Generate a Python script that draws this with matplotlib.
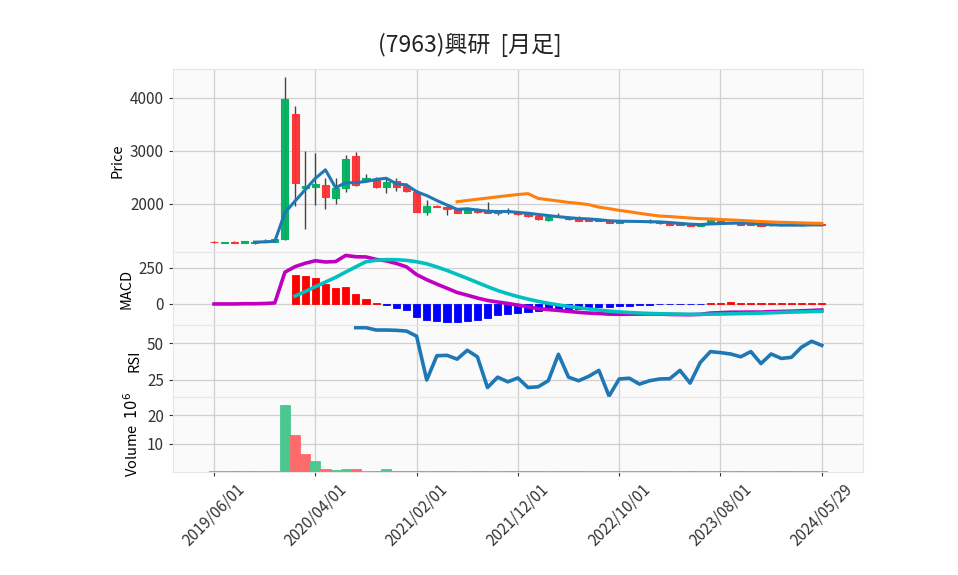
import matplotlib.pyplot as plt
import numpy as np
import pandas as pd

plt.rcParams['font.family'] = ['Noto Sans CJK JP', 'DejaVu Sans']

# monthly bars from 2019/06, plus the latest bar dated 2024/05/29
dates = pd.date_range('2019-06-01', '2024-05-01', freq='MS').strftime('%Y/%m/%d').tolist()
dates.append('2024/05/29')

opens = [1285, 1262, 1282, 1260, 1258, 1290, 1290, 1334, 3698, 2296,
         2327, 2358, 2107, 2308, 2906, 2440, 2453, 2327, 2440, 2345,
         2221, 1843, 1968, 1949, 1900, 1836, 1887, 1855, 1836, 1870,
         1836, 1817, 1774, 1698, 1761, 1730, 1730, 1717, 1700, 1679,
         1647, 1680, 1675, 1675, 1666, 1641, 1620, 1623, 1585, 1654,
         1685, 1645, 1635, 1615, 1617, 1595, 1610, 1605, 1600, 1605, 1620]
highs = [1300, 1290, 1295, 1305, 1290, 1330, 1345, 4400, 3849, 3000,
         2957, 2485, 2485, 2925, 2975, 2560, 2500, 2515, 2490, 2390,
         2260, 2075, 1990, 1962, 1910, 1910, 1920, 2043, 1890, 1920,
         1850, 1840, 1780, 1800, 1830, 1760, 1770, 1730, 1710, 1690,
         1680, 1700, 1690, 1720, 1680, 1650, 1630, 1630, 1640, 1710,
         1700, 1665, 1650, 1630, 1625, 1625, 1625, 1615, 1610, 1620, 1625]
lows = [1265, 1255, 1262, 1255, 1250, 1280, 1285, 1320, 1962, 1523,
        1981, 1900, 2000, 2221, 2345, 2421, 2300, 2202, 2250, 2230,
        1843, 1792, 1940, 1792, 1830, 1830, 1830, 1836, 1800, 1820,
        1800, 1760, 1700, 1680, 1750, 1690, 1680, 1680, 1680, 1640,
        1640, 1670, 1660, 1640, 1625, 1600, 1595, 1585, 1580, 1650,
        1620, 1630, 1600, 1600, 1580, 1590, 1590, 1595, 1590, 1595, 1605]
closes = [1275, 1280, 1272, 1296, 1280, 1300, 1334, 3975, 2390, 2345,
          2372, 2138, 2296, 2849, 2358, 2485, 2327, 2409, 2327, 2251,
          1843, 1962, 1943, 1906, 1836, 1900, 1843, 1836, 1868, 1850,
          1805, 1767, 1723, 1761, 1745, 1715, 1685, 1685, 1685, 1647,
          1673, 1675, 1670, 1660, 1635, 1604, 1604, 1591, 1623, 1698,
          1635, 1640, 1604, 1604, 1585, 1617, 1600, 1598, 1605, 1610, 1612]
# volume in millions of shares
volumes = [0.25, 0.2, 0.25, 0.2, 0.2, 0.3, 0.3, 23.7, 13.0, 6.2,
           4.0, 1.2, 0.7, 1.2, 1.2, 0.3, 0.3, 1.2, 0.5, 0.3,
           0.3, 0.25, 0.2, 0.2, 0.2, 0.2, 0.2, 0.2, 0.2, 0.2,
           0.2, 0.2, 0.2, 0.2, 0.2, 0.2, 0.2, 0.2, 0.2, 0.2,
           0.2, 0.2, 0.2, 0.2, 0.2, 0.2, 0.2, 0.2, 0.2, 0.2,
           0.2, 0.2, 0.2, 0.2, 0.2, 0.2, 0.2, 0.2, 0.2, 0.2, 0.2]
# RSI(14), starts at bar 14
rsi_values = [60.4, 60.4, 58.8, 58.8, 58.6, 58.1, 54.6, 25.0, 41.4, 41.7,
              39.1, 45.1, 40.7, 19.9, 26.9, 23.8, 26.4, 19.9, 20.4, 24.5,
              42.4, 26.9, 24.5, 27.5, 31.5, 14.1, 25.7, 26.2, 22.2, 24.5,
              25.7, 25.9, 31.5, 22.9, 36.8, 44.2, 43.5, 42.6, 40.7, 44.2,
              36.1, 42.6, 39.6, 40.3, 47.2, 51.2, 48.4]

df = pd.DataFrame({'open': opens, 'high': highs, 'low': lows, 'close': closes, 'volume': volumes})
x = np.arange(len(df))
ma5 = df['close'].rolling(5).mean()
ma25 = df['close'].rolling(25).mean()
macd = df['close'].ewm(span=12, adjust=False).mean() - df['close'].ewm(span=26, adjust=False).mean()
signal = macd.rolling(9).mean()
hist = macd - signal
rsi = pd.Series([np.nan] * 14 + rsi_values)

up, down = '#00b060', '#fe3032'
vup, vdown = '#4cc790', '#fd6b6c'
bg, grid = '#fafafa', '#d0d0d0'

fig = plt.figure(figsize=(9.58, 5.75), dpi=100)
L, W = 173 / 958, 690 / 958
def panel(top, bottom):
    return fig.add_axes([L, 1 - bottom / 575, W, (bottom - top) / 575])
ax1 = panel(69, 252)
ax2 = panel(252, 325)
ax3 = panel(325, 397)
ax4 = panel(397, 472)

for ax in (ax1, ax2, ax3, ax4):
    ax.set_facecolor(bg)
    ax.grid(True, color=grid, linewidth=0.9)
    ax.set_axisbelow(True)
    for s in ax.spines.values():
        s.set_color('#e6e6e6')
    ax.set_xlim(-4.05, 64.07)
    ax.set_xticks(x[::10])
    ax.tick_params(labelsize=11, colors='#333333', length=3)
for ax in (ax1, ax2, ax3):
    ax.tick_params(axis='x', labelbottom=False, length=0)

# candles
is_up = df['close'] >= df['open']
ccol = np.where(is_up, up, down)
ax1.vlines(x, df['low'], df['high'], color='#444444', linewidth=1, zorder=2)
ax1.bar(x, (df['close'] - df['open']).abs(), bottom=df[['open', 'close']].min(axis=1),
        width=0.7, color=ccol, edgecolor=ccol, linewidth=0.8, alpha=0.95, zorder=3)
ax1.plot(x, ma5, color='#1f77b4', linewidth=2.2, zorder=4)
ax1.plot(x, ma25, color='#ff7f0e', linewidth=2.2, zorder=4)
ax1.set_ylim(1094, 4547)
ax1.set_yticks([2000, 3000, 4000])
ax1.set_ylabel('Price', fontsize=10.5)

# MACD
hcol = np.where(hist >= 0, '#ff0000', '#0000ff')
ax2.bar(x, hist, width=0.7, color=hcol, edgecolor=hcol, linewidth=0.6, zorder=2)
ax2.plot(x, macd, color='#c000c0', linewidth=2.6, zorder=3)
ax2.plot(x, signal, color='#00c0c0', linewidth=2.6, zorder=3)
ax2.set_ylim(-146, 361)
ax2.set_yticks([0, 250])
ax2.set_ylabel('MACD', fontsize=10.5)

# RSI
ax3.plot(x, rsi, color='#1f77b4', linewidth=2.6)
ax3.set_ylim(13.5, 62.2)
ax3.set_yticks([25, 50])
ax3.set_ylabel('RSI', fontsize=10.5)

# volume, coloured by close versus the previous close
vcol = np.where(df['close'].diff().fillna(0) >= 0, vup, vdown)
ax4.bar(x, df['volume'], width=1.0, color=vcol, edgecolor=vcol, linewidth=0.6)
ax4.set_ylim(0, 26.5)
ax4.set_yticks([10, 20])
ax4.set_ylabel('Volume  $10^{6}$', fontsize=10.5)
ax4.set_xticklabels(dates[::10], rotation=45, ha='center')

fig.text(0.49, 0.922, '(7963)興研  [月足]', ha='center', va='center', fontsize=16.5, color='#222222')

plt.savefig('out.png', dpi=100)
plt.close()
